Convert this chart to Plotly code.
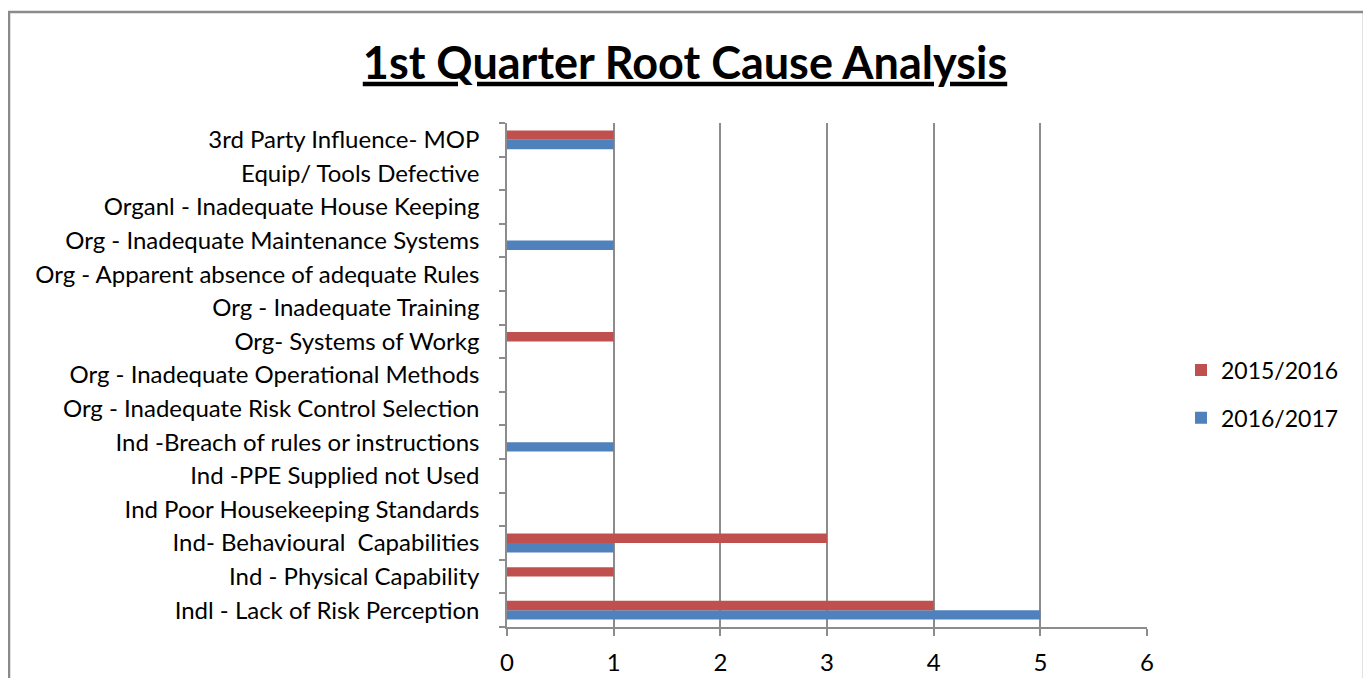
import plotly.graph_objects as go

categories = [
    "Indl - Lack of Risk Perception",
    "Ind - Physical Capability",
    "Ind- Behavioural  Capabilities",
    "Ind Poor Housekeeping Standards",
    "Ind -PPE Supplied not Used",
    "Ind -Breach of rules or instructions",
    "Org - Inadequate Risk Control Selection",
    "Org - Inadequate Operational Methods",
    "Org- Systems of Workg",
    "Org - Inadequate Training",
    "Org - Apparent absence of adequate Rules",
    "Org - Inadequate Maintenance Systems",
    "Organl - Inadequate House Keeping",
    "Equip/ Tools Defective",
    "3rd Party Influence- MOP",
]
vals_2016_2017 = [5, 0, 1, 0, 0, 1, 0, 0, 0, 0, 0, 1, 0, 0, 1]
vals_2015_2016 = [4, 1, 3, 0, 0, 0, 0, 0, 1, 0, 0, 0, 0, 0, 1]
x_ticks = [0, 1, 2, 3, 4, 5, 6]

FONT = "Lato"
GRID = "#8c8c8c"
OFF = 8  # browser body margin
W, H = 1371 - OFF, 686 - 2 * OFF

fig = go.Figure()
fig.add_trace(go.Bar(y=categories, x=vals_2016_2017, orientation="h", name="2016/2017",
                     marker=dict(color="#4F81BD", line=dict(width=0)),
                     legendgroup="b", legendrank=2))
fig.add_trace(go.Bar(y=categories, x=vals_2015_2016, orientation="h", name="2015/2016",
                     marker=dict(color="#C0504D", line=dict(width=0)),
                     legendgroup="a", legendrank=1))

# plot area in reference pixel coordinates
X0, X1, Y0, Y1 = 507, 1147, 123, 627
L, T = X0 - OFF, Y0 - OFF
R = W - (X1 - OFF)
B = H - (Y1 - OFF)
pw, ph = X1 - X0, Y1 - Y0

def px(xp):
    return (xp - X0) / pw

def py(yp):
    return (Y1 - yp) / ph

fig.update_layout(
    width=W, height=H,
    margin=dict(l=L, r=R, t=T, b=B, autoexpand=False),
    paper_bgcolor="white", plot_bgcolor="white",
    font=dict(family=FONT, size=24, color="#000000"),
    barmode="group", bargap=0.44, bargroupgap=0,
    title=dict(text="<b><u>1st Quarter Root Cause Analysis</u></b>",
               x=(685 - OFF) / W, xanchor="center", xref="container",
               y=1 - (63 - OFF) / H, yanchor="middle",
               font=dict(family=FONT, size=45, color="#000000")),
    xaxis=dict(range=[0, 6], tickvals=x_ticks, ticktext=[str(v) for v in x_ticks],
               showgrid=True, gridcolor=GRID, gridwidth=1.5,
               showline=True, linecolor=GRID, linewidth=1.5,
               ticks="outside", ticklen=7, tickcolor=GRID, tickwidth=1.5,
               zeroline=False, fixedrange=True, ticklabelstandoff=6),
    yaxis=dict(categoryorder="array", categoryarray=categories,
               showline=True, linecolor=GRID, linewidth=1.5,
               ticks="outside", ticklen=6, tickcolor=GRID, tickwidth=1.5,
               tickson="boundaries", showgrid=False, zeroline=False,
               ticklabelstandoff=21, fixedrange=True),
    legend=dict(x=px(1181), y=py(394), xanchor="left", yanchor="middle",
                traceorder="grouped", tracegroupgap=15,
                font=dict(family=FONT, size=23), bgcolor="rgba(0,0,0,0)"),
    shapes=[dict(type="rect", xref="paper", yref="paper",
                 x0=px(OFF + 1), x1=px(1364), y0=py(740), y1=py(12),
                 line=dict(color="#8a8a8a", width=2.5), fillcolor="rgba(0,0,0,0)",
                 layer="below")],
)

fig.write_html("out.html")
